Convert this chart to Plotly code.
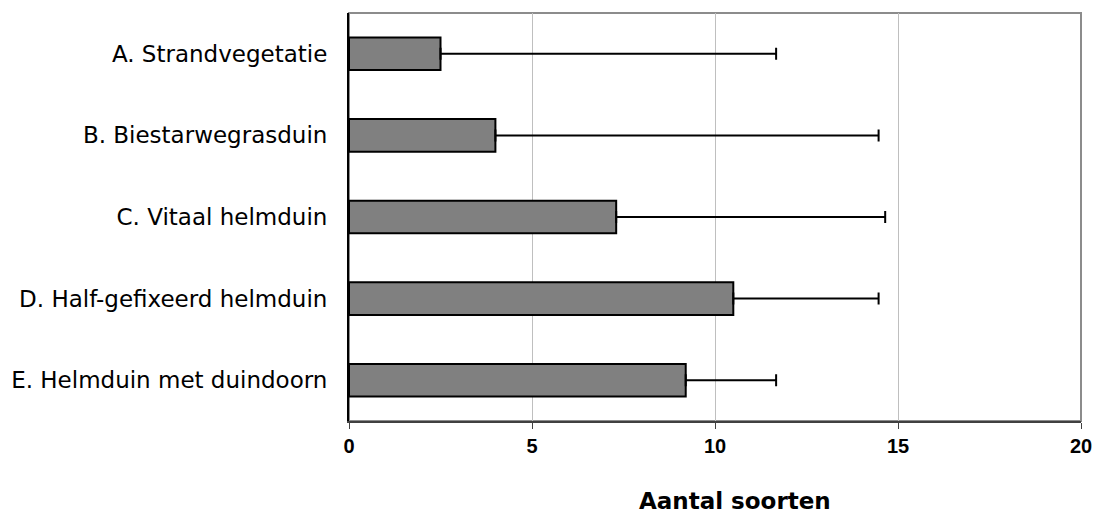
import plotly.graph_objects as go

categories = ["A. Strandvegetatie", "B. Biestarwegrasduin", "C. Vitaal helmduin",
              "D. Half-gefixeerd helmduin", "E. Helmduin met duindoorn"]
means = [2.5, 4.0, 7.3, 10.5, 9.2]
upper = [11.67, 14.47, 14.65, 14.47, 11.67]
err_plus = [u - m for u, m in zip(upper, means)]
x_ticks = [0, 5, 10, 15, 20]

fig = go.Figure()
fig.add_trace(go.Bar(
    y=categories, x=means, orientation="h",
    marker=dict(color="#808080", line=dict(color="#000000", width=2)),
    error_x=dict(type="data", symmetric=False, array=err_plus, arrayminus=[0]*5,
                 color="#000000", thickness=2, width=6),
    width=0.4,
))

fig.update_layout(
    width=1094, height=513, autosize=False,
    margin=dict(l=349, r=13, t=13, b=92),
    paper_bgcolor="white", plot_bgcolor="white",
    showlegend=False,
    font=dict(family="DejaVu Sans", color="#000000"),
    xaxis=dict(range=[0, 20], tickvals=x_ticks, showgrid=True, gridcolor="#bfbfbf", gridwidth=1,
               showline=True, linecolor="#404040", linewidth=2, ticks="outside", ticklen=6,
               tickcolor="#404040", tickwidth=1, zeroline=False, automargin=False,
               tickfont=dict(family="Liberation Sans", size=20, weight="bold", color="#000000")),
    yaxis=dict(categoryorder="array", categoryarray=categories, autorange="reversed",
               showline=True, linecolor="#000000", linewidth=2, showgrid=False,
               ticks="", ticklabelstandoff=15, automargin=False,
               tickfont=dict(family="DejaVu Sans", size=23, color="#000000")),
    shapes=[dict(type="rect", xref="paper", yref="paper", x0=0, x1=1, y0=0, y1=1,
                 line=dict(color="#8c8c8c", width=2), layer="below")],
    annotations=[dict(text="<b>Aantal soorten</b>", xref="paper", yref="paper",
                      x=(735-349)/732, y=-(501-421)/408, xanchor="center", yanchor="middle",
                      showarrow=False, font=dict(family="DejaVu Sans", size=23, color="#000000"))],
)
fig.write_html(
    "out.html",
    config={"displayModeBar": False, "responsive": False},
    post_script="document.body.style.margin='0';document.body.style.overflow='hidden';"
                "Plotly.relayout('{plot_id}', {width:1094, height:513});",
)
